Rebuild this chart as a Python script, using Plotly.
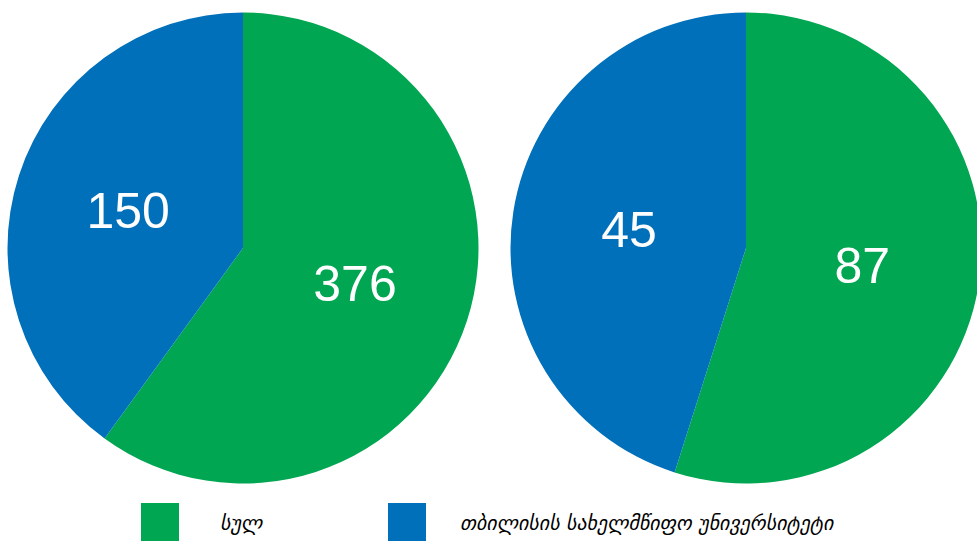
import plotly.graph_objects as go

# Data
categories = ["სულ", "თბილისის სახელმწიფო უნივერსიტეტი"]
left_labels = [376, 150]          # printed numbers, left pie
right_labels = [87, 45]           # printed numbers, right pie
left_shares = [60.0, 40.0]        # slice shares (%)
right_shares = [54.9, 45.1]
colors = ["#00A651", "#0070BA"]

W, H = 985, 542   # a bit wider than the window so the right pie is clipped like the original

def px_x(a):
    return a / W

def px_y(a):
    return 1 - a / H

fig = go.Figure()

label_font = dict(family="Liberation Sans Narrow, Arial Narrow, Liberation Sans, sans-serif",
                  size=50, color="white")

for shares, labels, dom in [
    (left_shares, left_labels, dict(x=[px_x(7.5), px_x(478.5)], y=[px_y(483.5), px_y(12.5)])),
    (right_shares, right_labels, dict(x=[px_x(510.5), px_x(981.5)], y=[px_y(483.5), px_y(12.5)])),
]:
    fig.add_trace(go.Pie(
        labels=categories,
        values=shares,
        text=[str(v) for v in labels],
        textinfo="text",
        textposition="inside",
        insidetextorientation="horizontal",
        textfont=label_font,
        sort=False,
        direction="clockwise",
        rotation=0,
        marker=dict(colors=colors, line=dict(width=0)),
        domain=dom,
        showlegend=False,
        hoverinfo="label+text",
    ))

# Custom legend (large square swatches)
legend_sq_x = [141, 388]
legend_txt_x = [218, 458]
shapes = []
annotations = []
for i, name in enumerate(categories):
    x0 = legend_sq_x[i]
    shapes.append(dict(type="rect", xref="paper", yref="paper",
                       x0=px_x(x0), x1=px_x(x0 + 38), y0=px_y(541), y1=px_y(503),
                       fillcolor=colors[i], line=dict(width=0)))
    annotations.append(dict(xref="paper", yref="paper", x=px_x(legend_txt_x[i]), y=px_y(523),
                            xanchor="left", yanchor="middle", showarrow=False,
                            text="<i>" + name + "</i>",
                            font=dict(family="DejaVu Sans, sans-serif", size=20, color="black")))

fig.update_layout(
    width=W, height=H,
    margin=dict(l=0, r=0, t=0, b=0),
    paper_bgcolor="white",
    plot_bgcolor="white",
    shapes=shapes,
    annotations=annotations,
)

fig.write_html(
    "out.html",
    config={"displayModeBar": False},
    post_script="document.body.style.margin='0';document.body.style.overflow='hidden';"
                "document.documentElement.style.overflow='hidden';",
)
